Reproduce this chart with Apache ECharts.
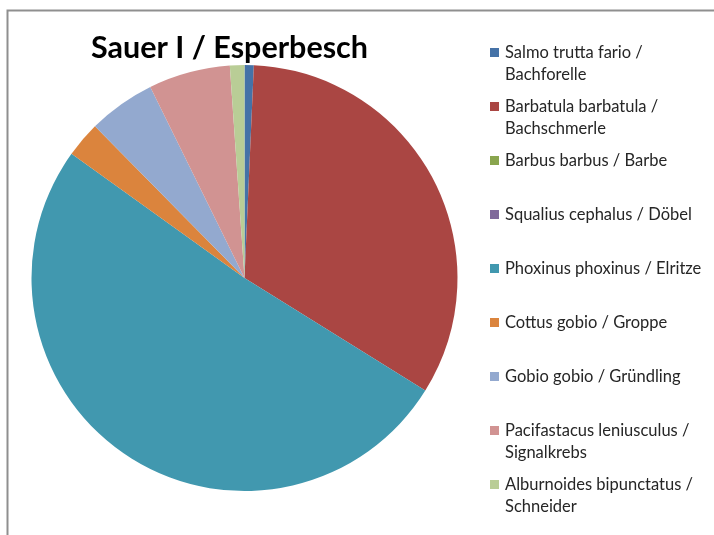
<!DOCTYPE html>
<html>
<head>
<meta charset="utf-8">
<script src="https://cdn.jsdelivr.net/npm/echarts@6/dist/echarts.min.js"></script>
<style>
html,body{margin:0;padding:0;background:#fff;}
#chart{width:714px;height:535px;}
</style>
</head>
<body>
<div id="chart"></div>
<script>
// ---- data ----
const titleText = "Sauer I / Esperbesch";
const speciesLine1 = [
  "Salmo trutta fario /",
  "Barbatula barbatula /",
  "Barbus barbus / Barbe",
  "Squalius cephalus / Döbel",
  "Phoxinus phoxinus / Elritze",
  "Cottus gobio / Groppe",
  "Gobio gobio / Gründling",
  "Pacifastacus leniusculus /",
  "Alburnoides bipunctatus /"
];
const speciesLine2 = [
  "Bachforelle",
  "Bachschmerle",
  "",
  "",
  "",
  "",
  "",
  "Signalkrebs",
  "Schneider"
];
const shares = [0.7, 33.2, 0, 0, 51.1, 2.7, 5.1, 6.2, 1.1];
const colors = ["#4572A7", "#AA4643", "#89A54E", "#80699B", "#4198AF", "#DB843D", "#93A9CF", "#D19392", "#B9CD96"];

// ---- build ----
const names = speciesLine1.map((l1, i) => speciesLine2[i] ? l1 + " " + speciesLine2[i] : l1);
const pieData = names.map((n, i) => ({ name: n, value: shares[i], itemStyle: { color: colors[i] } }));

const rich = { t: { fontFamily: "Lato", fontSize: 16.5, color: "#262626", lineHeight: 22 }, pad: { width: 15, height: 22 } };
colors.forEach((c, i) => {
  rich["s" + i] = { width: 9, height: 9, backgroundColor: c, borderWidth: 0 };
  rich["g" + i] = { width: 6 };
});

const chart = echarts.init(document.getElementById("chart"), null, { renderer: "canvas" });
chart.setOption({
  animation: false,
  backgroundColor: "#fff",
  title: {
    text: titleText,
    left: 229.5, top: 48,
    padding: 0,
    textAlign: "center", textVerticalAlign: "middle",
    textStyle: { fontFamily: "Lato", fontWeight: "bold", fontSize: 30.5, color: "#000" }
  },
  graphic: [{
    type: "rect", silent: true, z: -1,
    shape: { x: 7.5, y: 10.5, width: 800, height: 600 },
    style: { fill: "none", stroke: "#8f8f8f", lineWidth: 2 }
  }],
  legend: {
    orient: "vertical",
    left: 485, top: 44,
    height: 490,
    itemWidth: 0, itemHeight: 0,
    itemGap: 15,
    padding: 0,
    icon: "rect",
    selectedMode: false,
    data: names,
    formatter: function (name) {
      const i = names.indexOf(name);
      return "{s" + i + "|}{g" + i + "|}{t|" + speciesLine1[i] + "}\n{pad|}{t|" + (speciesLine2[i] || " ") + "}";
    },
    textStyle: { rich: rich, padding: [0, 0, 0, 0] }
  },
  series: [{
    type: "pie",
    center: [244.5, 278],
    radius: 213,
    startAngle: 90,
    clockwise: true,
    label: { show: false },
    labelLine: { show: false },
    itemStyle: { borderWidth: 0 },
    emphasis: { disabled: true },
    data: pieData
  }]
});
</script>
</body>
</html>
